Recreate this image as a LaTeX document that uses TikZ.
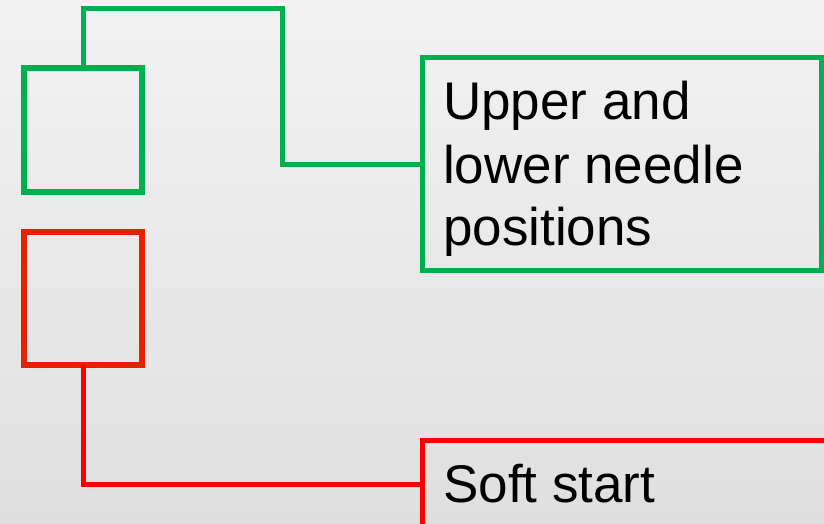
\documentclass[tikz,border=0pt]{standalone}
\usepackage{fontspec}
\setmainfont{Liberation Sans}
\definecolor{ggreen}{HTML}{00B050}
\definecolor{rbox}{HTML}{E52200}
\definecolor{rline}{HTML}{FF0000}
\definecolor{bgtop}{HTML}{F2F2F2}
\definecolor{bgbot}{HTML}{DFDFDF}
\tikzset{
  smallbox/.style={draw, line width=6pt, minimum width=118pt, minimum height=124pt, inner sep=0pt, outer sep=0pt},
  textbox/.style={draw, line width=5pt, inner sep=0pt, outer sep=0pt},
  conn/.style={line width=5pt},
  lbl/.style={anchor=base west, inner sep=0pt, font=\fontsize{53}{63}\selectfont}
}
\begin{document}
\begin{tikzpicture}[x=1pt,y=-1pt]
\useasboundingbox (0,0) rectangle (824,524);
\shade[top color=bgtop, bottom color=bgbot] (0,0) rectangle (824,524);
\clip (0,0) rectangle (824,524);
% boxes
\node[smallbox, color=ggreen] (gbox) at (83,130) {};
\node[smallbox, color=rbox, minimum height=133pt, minimum width=118.5pt] (rbox) at (83,298.5) {};
\node[textbox, color=ggreen, minimum width=399pt, minimum height=212pt] (gtbox) at (621.5,164) {};
\node[textbox, color=rline, minimum width=420pt, minimum height=140pt, anchor=north west] (rtbox) at (422,440) {};
% texts
\node[lbl] (gtxt) at (443,120) {\begin{tabular}[t]{@{}l@{}}Upper and\\lower needle\\positions\end{tabular}};
\node[lbl] (rtxt) at (443,502) {Soft start};
% connectors
\coordinate (g1) at (83,8.5);
\coordinate (g2) at (282.5,8.5);
\coordinate (g3) at (282.5,164);
\draw[conn, ggreen] (gbox.north) -- (g1) -- (g2) -- (g3) -- (gtbox.west);
\coordinate (r1) at (83,484);
\draw[conn, rline] (rbox.south) -- (r1) -- (r1 -| rtbox.west);
\end{tikzpicture}
\end{document}
